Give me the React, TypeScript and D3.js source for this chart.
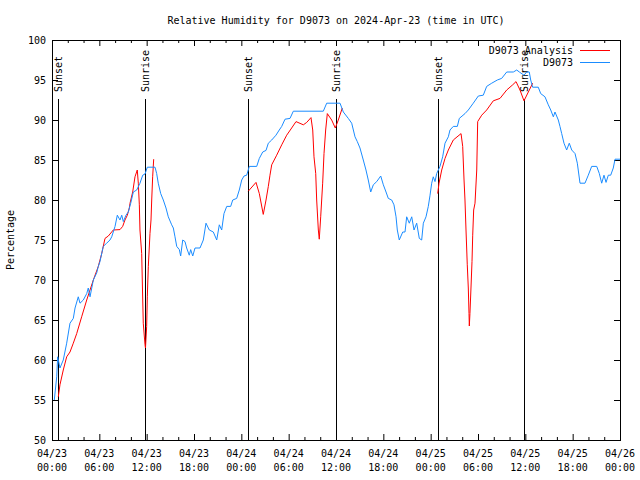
import React from 'react';
import * as d3 from 'd3';

const W = 640;
const H = 480;
const margin = { top: 40, right: 20, bottom: 40, left: 52 };

const title = 'Relative Humidity for D9073 on 2024-Apr-23 (time in UTC)';
const yLabel = 'Percentage';
const seriesNames = ['D9073 Analysis', 'D9073'];
const seriesColors = ['#ff0000', '#1a8cff'];

// hours since 04/23 00:00 UTC
const obsHours = [
  0.29, 0.6, 0.72, 1.01, 1.43, 1.86, 2.28, 2.7, 2.92, 3.33, 3.55, 3.97, 4.4, 4.6, 4.82, 5.24, 5.67, 5.87,
  6.08, 6.5, 6.93, 7.35, 7.57, 7.99, 8.28, 8.62, 8.84, 9.04, 9.38, 9.67, 9.98, 10.31, 10.74, 11.15, 11.5,
  11.79, 12.08, 13.06, 13.27, 13.47, 13.78, 14.11, 14.45, 14.74, 15.17, 15.38, 15.59, 15.81, 16.14, 16.31,
  16.57, 16.86, 17.07, 17.4, 17.58, 17.84, 18.13, 18.76, 19.18, 19.52, 19.94, 20.45, 20.88, 21.21, 21.51,
  21.8, 22.15, 22.65, 22.91, 23.41, 23.74, 24.05, 24.34, 24.68, 25.01, 25.95, 26.28, 26.71, 27.13, 27.42,
  27.85, 28.39, 28.81, 29.12, 29.54, 30.17, 30.59, 34.39, 34.82, 36.51, 36.93, 37.56, 37.99, 38.41, 38.7,
  39.04, 39.46, 39.8, 40.09, 40.4, 40.73, 41.16, 41.67, 42.0, 42.34, 42.63, 43.06, 43.35, 43.61, 43.77,
  44.02, 44.46, 44.75, 44.96, 45.29, 45.6, 45.89, 46.23, 46.56, 46.86, 47.07, 47.41, 47.7, 47.92, 48.13,
  48.33, 48.55, 48.76, 49.18, 49.52, 49.82, 50.24, 50.45, 50.87, 51.38, 51.63, 52.35, 52.77, 53.4, 54.04,
  54.67, 55.1, 55.74, 56.45, 57.0, 57.64, 58.48, 58.91, 59.24, 59.83, 60.17, 60.5, 60.68, 60.93, 61.64,
  61.95, 62.49, 62.91, 63.22, 63.55, 63.76, 64.18, 64.39, 64.61, 64.9, 65.24, 65.57, 65.88, 66.3, 66.59,
  66.93, 67.56, 67.98, 68.41, 69.05, 69.38, 69.68, 69.97, 70.23, 70.52, 70.82, 71.15, 71.37, 72.0,
];
const obsValues = [
  55, 57.9, 60.4, 59, 60, 62.1, 64.6, 65.2, 66.5, 67.9, 67.1, 67.5, 68.3, 69, 67.9, 70, 70.9, 71.7,
  72.3, 74.2, 74.6, 75, 75.4, 76.7, 78.1, 77.5, 78.1, 77.3, 78.1, 78.5, 79.6, 81, 81.25, 82.1, 83.1,
  83.25, 84.1, 84.1, 83.3, 82.1, 80.8, 80, 79, 77.9, 76.9, 76.5, 75.4, 74.2, 73.8, 73,
  75, 74.8, 74, 73.1, 73.8, 73, 74, 74, 75, 77.1, 76.25, 76, 75, 76.9, 76.25,
  78.3, 79.2, 79.2, 80, 80.2, 81.25, 82.5, 83, 83.1, 84.2, 84.2, 85.2, 86, 86.2, 87.1,
  87.5, 88.1, 88.75, 89.2, 90.1, 90.2, 91.1, 91.1, 92.1, 92.1, 91, 90.2, 89.6, 87.9, 87.3,
  86.5, 85, 83.75, 82.5, 81, 81.9, 82.3, 83, 81.9, 81, 80.2, 80, 79.4, 77.9, 76.25,
  75, 76, 76, 77.9, 77.1, 77.9, 76.25, 77.1, 75.2, 75, 77.1, 77.9, 79.2, 80.6, 82.1,
  82.9, 82.3, 83.3, 84.2, 85.4, 87.1, 87.9, 88.75, 89.2, 89.2, 90.2, 90.8, 91.25, 92.1, 93,
  93.1, 94.2, 94.6, 95, 95.2, 96, 96, 96.25, 96, 95.6, 96, 96, 95, 94.1, 94.1,
  93.3, 92.9, 91.9, 91.25, 90.4, 91, 90, 89.2, 88.3, 87.1, 86.25, 87.1, 86.25, 85.8, 84.6,
  82.1, 82.1, 83.1, 84.2, 84.2, 83.3, 82.1, 83.1, 82.2, 83.1, 83.1, 84, 85.1, 85.1,
];

// analysis only exists at night; null separates the three nights
const anaHours = [
  0.8, 1.01, 1.43, 1.86, 2.28, 2.7, 3.13, 3.76, 4.4, 5.24, 5.87, 6.3, 6.72, 7.14, 7.77, 8.62, 8.96, 9.25,
  9.55, 9.8, 9.89, 10.23, 10.52, 10.81, 10.94, 11.07, 11.15, 11.37, 11.5, 11.57, 11.79, 11.85, 12.0, 12.08,
  12.21, 12.42, 12.55, 12.64, 12.76, 12.89, null,
  24.88, 25.86, 26.28, 26.78, 27.13, 27.42, 27.63, 27.85, 28.48, 29.12, 29.75, 30.38, 30.93, 31.86, 32.29,
  32.83, 33.05, 33.21, 33.43, 33.55, 33.76, 33.88, 34.06, 34.31, 34.48, 34.69, 34.9, 35.45, 35.91, 36.29,
  36.8, null,
  48.89, 49.06, 49.4, 49.82, 50.24, 50.87, 51.85, 52.06, 52.23, 52.35, 52.48, 52.64, 52.77, 52.86, 52.9,
  52.98, 53.11, 53.24, 53.33, 53.45, 53.62, 53.84, 53.96, 54.47, 55.1, 55.94, 56.79, 57.64, 58.4, 58.82,
  59.32, 59.83, 60.38, 60.93,
];
const anaValues = [
  55.4, 56.9, 58.75, 60.4, 61, 62.1, 63.3, 65.4, 67.5, 70, 71.7, 73.3, 75.2, 75.5, 76.25, 76.3, 76.7, 77.5,
  78.1, 79, 79.6, 81, 82.9, 83.75, 82.1, 79.4, 76.25, 73.3, 67.5, 64.6, 61.9, 61.5, 64.2, 67.9,
  71.7, 75.8, 77.5, 80, 82.9, 85.1, null,
  81.1, 82.2, 80.8, 78.2, 80, 81.7, 83.1, 84.4, 85.6, 86.9, 88.1, 89, 89.8, 89.4, 89.7,
  90.3, 88.75, 85.4, 83.3, 80, 76.25, 75.1, 77.9, 82.1, 85.8, 88.75, 90.8, 90, 89, 90,
  91.5, null,
  80.8, 82.1, 83.75, 85.2, 86.25, 87.5, 88.3, 86.7, 82.5, 80, 76.25, 71.9, 69, 65.8, 64.25,
  65.8, 69, 72.3, 75.6, 78.75, 79.6, 83.75, 89.8, 90.6, 91.25, 92.4, 92.7, 93.75, 94.4, 94.8,
  93.75, 92.4, 93.5, 94.6,
];

const sunLabels = ['Sunset', 'Sunrise', 'Sunset', 'Sunrise', 'Sunset', 'Sunrise'];
const sunHours = [0.8, 11.83, 24.88, 35.96, 48.97, 59.87];

const yTicks = [50, 55, 60, 65, 70, 75, 80, 85, 90, 95, 100];
const xMajorTicks = d3.range(0, 73, 6);
const xMinorTicks = d3.range(0, 73, 2).filter((h) => h % 6 !== 0);

const font = '"DejaVu Sans Mono", "Liberation Mono", monospace';

export default function App() {
  const x = d3.scaleLinear().domain([0, 72]).range([margin.left, W - margin.right]);
  const y = d3.scaleLinear().domain([50, 100]).range([H - margin.bottom, margin.top]);
  const top = margin.top;
  const bottom = H - margin.bottom;
  const left = margin.left;
  const right = W - margin.right;

  const obs = obsHours.map((h, i) => [h, obsValues[i]] as [number, number]);
  const ana = anaHours.map((h, i) => [h, anaValues[i]] as [number | null, number | null]);

  const line = d3
    .line<[number | null, number | null]>()
    .defined((d) => d[0] != null && d[1] != null)
    .x((d) => x(d[0] as number))
    .y((d) => y(d[1] as number));

  const fmtDay = (h: number) => `04/${23 + Math.floor(h / 24)}`;
  const fmtTime = (h: number) => `${String(h % 24).padStart(2, '0')}:00`;

  return (
    <div style={{ position: 'fixed', left: 0, top: 0 }}>
      <svg width={W} height={H} style={{ display: 'block', background: '#fff' }} fontFamily={font}>
        <rect width={W} height={H} fill="#fff" />
        <text x={(left + right) / 2} y={24} fontSize={10} textAnchor="middle">
          {title}
        </text>

        {/* y axis ticks and labels */}
        {yTicks.map((t) => (
          <g key={'y' + t}>
            <line x1={left} x2={left + 6} y1={y(t) + 0.5} y2={y(t) + 0.5} stroke="#000" />
            <line x1={right - 6} x2={right} y1={y(t) + 0.5} y2={y(t) + 0.5} stroke="#000" />
            <text x={left - 6} y={y(t) + 4} fontSize={10} textAnchor="end">
              {t}
            </text>
          </g>
        ))}

        {/* x axis ticks and labels */}
        {xMajorTicks.map((t) => (
          <g key={'x' + t}>
            <line x1={x(t) + 0.5} x2={x(t) + 0.5} y1={bottom} y2={bottom - 6} stroke="#000" />
            <line x1={x(t) + 0.5} x2={x(t) + 0.5} y1={top} y2={top + 6} stroke="#000" />
            <text x={x(t)} y={457} fontSize={10} textAnchor="middle">
              {fmtDay(t)}
            </text>
            <text x={x(t)} y={471} fontSize={10} textAnchor="middle">
              {fmtTime(t)}
            </text>
          </g>
        ))}
        {xMinorTicks.map((t) => (
          <g key={'m' + t}>
            <line x1={x(t) + 0.5} x2={x(t) + 0.5} y1={bottom} y2={bottom - 3} stroke="#000" />
            <line x1={x(t) + 0.5} x2={x(t) + 0.5} y1={top} y2={top + 3} stroke="#000" />
          </g>
        ))}

        <text
          transform={`translate(14,${(top + bottom) / 2}) rotate(-90)`}
          fontSize={10}
          textAnchor="middle"
        >
          {yLabel}
        </text>

        {/* sunrise / sunset markers */}
        {sunHours.map((h, i) => (
          <g key={'s' + i}>
            <line x1={Math.round(x(h)) + 0.5} x2={Math.round(x(h)) + 0.5} y1={99} y2={bottom} stroke="#000" />
            <text
              transform={`translate(${Math.round(x(h)) + 4},92) rotate(-90)`}
              fontSize={10}
              textAnchor="start"
            >
              {sunLabels[i]}
            </text>
          </g>
        ))}

        <path d={line(ana) || ''} fill="none" stroke={seriesColors[0]} strokeWidth={1} />
        <path d={line(obs) || ''} fill="none" stroke={seriesColors[1]} strokeWidth={1} />

        {/* legend */}
        {seriesNames.map((name, i) => (
          <g key={name}>
            <text x={573} y={54 + i * 12} fontSize={10} textAnchor="end">
              {name}
            </text>
            <line x1={580} x2={610} y1={50.5 + i * 12} y2={50.5 + i * 12} stroke={seriesColors[i]} />
          </g>
        ))}

        <rect x={left + 0.5} y={top + 0.5} width={right - left} height={bottom - top} fill="none" stroke="#000" />
      </svg>
    </div>
  );
}
